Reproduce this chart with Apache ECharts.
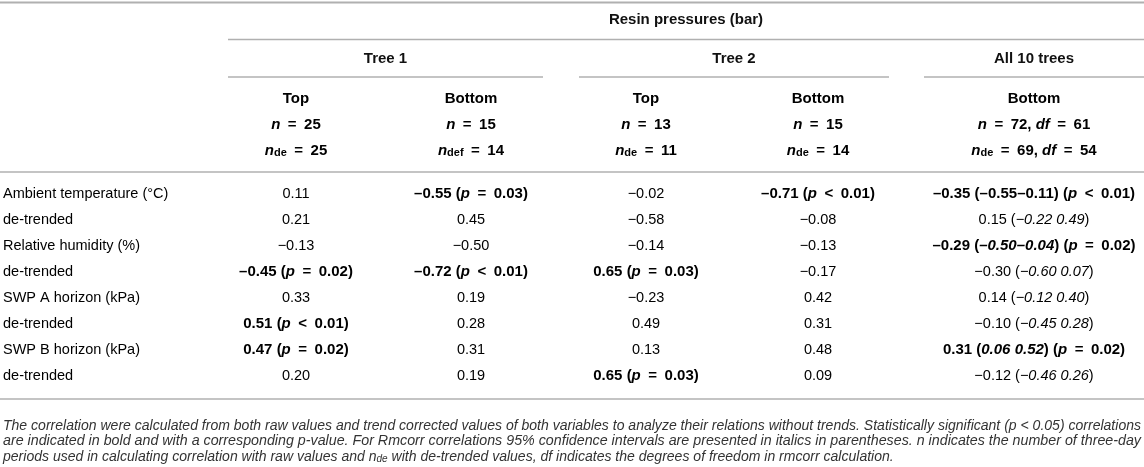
<!DOCTYPE html>
<html>
<head>
<meta charset="utf-8">
<script src="https://cdn.jsdelivr.net/npm/echarts@6/dist/echarts.min.js"></script>
<style>
  html, body { margin: 0; padding: 0; background: #fff; }
  #table { width: 1144px; height: 467px; }
</style>
</head>
<body>
<div id="table"></div>
<script>
// 行标题
const rowLabels = ['Ambient temperature (°C)', 'de-trended', 'Relative humidity (%)', 'de-trended',
  'SWP A horizon (kPa)', 'de-trended', 'SWP B horizon (kPa)', 'de-trended']
// 表头
const groups = ['Tree 1', 'Tree 2', 'All 10 trees']
const positions = ['Top', 'Bottom', 'Top', 'Bottom', 'Bottom']
const nRaw = [25, 15, 13, 15, 72]
const nDe = [25, 14, 11, 14, 69]
const nDeSub = ['de', 'def', 'de', 'de', 'de']
const dfRaw = 61
const dfDe = 54

// 相关系数 + p 值 (null = 不显著)
const tree1Top = [0.11, 0.21, -0.13, -0.45, 0.33, 0.51, 0.47, 0.20]
const tree1TopP = [null, null, null, '= 0.02', null, '< 0.01', '= 0.02', null]
const tree1Bottom = [-0.55, 0.45, -0.50, -0.72, 0.19, 0.28, 0.31, 0.19]
const tree1BottomP = ['= 0.03', null, null, '< 0.01', null, null, null, null]
const tree2Top = [-0.02, -0.58, -0.14, 0.65, -0.23, 0.49, 0.13, 0.65]
const tree2TopP = [null, null, null, '= 0.03', null, null, null, '= 0.03']
const tree2Bottom = [-0.71, -0.08, -0.13, -0.17, 0.42, 0.31, 0.48, 0.09]
const tree2BottomP = ['< 0.01', null, null, null, null, null, null, null]
// rmcorr: 系数, 95% 置信区间, p 值
const allBottom = [-0.35, 0.15, -0.29, -0.30, 0.14, -0.10, 0.31, -0.12]
const allCI = ['–0.55–0.11', '–0.22 0.49', '–0.50–0.04', '–0.60 0.07', '–0.12 0.40', '–0.45 0.28', '0.06 0.52', '–0.46 0.26']
const allP = ['< 0.01', null, '= 0.02', null, null, null, '= 0.02', null]

// 说明文字
const notes = [
  'The correlation were calculated from both raw values and trend corrected values of both variables to analyze their relations without trends. Statistically significant (p < 0.05) correlations',
  'are indicated in bold and with a corresponding p-value. For Rmcorr correlations 95% confidence intervals are presented in italics in parentheses. n indicates the number of three-day',
  'periods used in calculating correlation with raw values and n{sub|de} with de-trended values, df indicates the degrees of freedom in rmcorr calculation.'
]

// 版面
const W = 1144
const colX = [296, 471, 646, 818, 1034]
const groupSpan = [[228, 543], [579, 889], [924, 1144]]
const FONT = "'Liberation Sans', Arial, Helvetica, sans-serif"
const LINE = '#b0b0b0'
const SP = '\u2002' // 运算符两侧留宽一点

const rich = {
  r: { fontFamily: FONT, fontSize: 14.5, color: '#333' },
  ri: { fontFamily: FONT, fontSize: 14.5, color: '#333', fontStyle: 'italic' },
  b: { fontFamily: FONT, fontSize: 15, color: '#111', fontWeight: 'bold' },
  bi: { fontFamily: FONT, fontSize: 15, color: '#111', fontWeight: 'bold', fontStyle: 'italic' },
  bsub: { fontFamily: FONT, fontSize: 11, color: '#111', fontWeight: 'bold', verticalAlign: 'bottom', lineHeight: 11 }
}

const num = (v, bold) => (v < 0 ? (bold ? '–' : '−') : '') + Math.abs(v).toFixed(2)
const op = p => p.replace(/^([=<]) /, SP + '$1' + SP)

function cell(v, p) {
  if (!p) return '{r|' + num(v, false) + '}'
  return '{b|' + num(v, true) + ' (}{bi|p}{b|' + op(p) + ')}'
}
function rmCell(v, ci, p, i) {
  if (!p) return '{r|' + num(v, false) + ' (}{ri|' + ci.replace(/–/g, '−') + '}{r|)}'
  const ciTok = i === 0 ? '{b|' + ci + '}' : '{bi|' + ci + '}'
  return '{b|' + num(v, true) + ' (}' + ciTok + '{b|) (}{bi|p}{b|' + op(p) + ')}'
}

// 表体单元格
const cols = [
  [tree1Top, tree1TopP], [tree1Bottom, tree1BottomP],
  [tree2Top, tree2TopP], [tree2Bottom, tree2BottomP]
]
const bodyData = []
rowLabels.forEach((label, r) => {
  bodyData.push({ value: [3, r], text: '{r|' + label + '}', align: 'left' })
  cols.forEach((c, k) => bodyData.push({ value: [colX[k], r], text: cell(c[0][r], c[1][r]), align: 'center' }))
  bodyData.push({ value: [colX[4], r], text: rmCell(allBottom[r], allCI[r], allP[r], r), align: 'center' })
})

// 表头单元格
const headData = []
positions.forEach((pos, k) => {
  headData.push({ value: [colX[k], 0], text: '{b|' + pos + '}', align: 'center' })
  let n = '{bi|n}{b|' + SP + '=' + SP + nRaw[k] + '}'
  let nd = '{bi|n}{bsub|' + nDeSub[k] + '}{b|' + SP + '=' + SP + nDe[k] + '}'
  if (k === 4) {
    n += '{b|, }{bi|df}{b|' + SP + '=' + SP + dfRaw + '}'
    nd += '{b|, }{bi|df}{b|' + SP + '=' + SP + dfDe + '}'
  }
  headData.push({ value: [colX[k], 1], text: n, align: 'center' })
  headData.push({ value: [colX[k], 2], text: nd, align: 'center' })
})

function textItem(items) {
  return function (params, api) {
    const it = items[params.dataIndex]
    const c = api.coord([api.value(0), api.value(1)])
    return {
      type: 'text',
      x: c[0],
      y: c[1],
      style: { text: it.text, rich: rich, align: it.align, verticalAlign: 'middle' }
    }
  }
}

// 说明文字按原图两端对齐
const ctx = document.createElement('canvas').getContext('2d')
ctx.font = "italic 14px 'Liberation Sans', Arial, sans-serif"
const noteScale = 1138 / ctx.measureText(notes[0]).width
const noteScale2 = 1138 / ctx.measureText(notes[1]).width

const hline = (x1, x2, y, w) => ({
  type: 'line', silent: true,
  shape: { x1: x1, y1: y, x2: x2, y2: y },
  style: { stroke: LINE, lineWidth: w || 1.5 }
})
const boldText = (x, y, t) => ({
  type: 'text', x: x, y: y,
  style: { text: t, font: 'bold 15px ' + FONT, fill: '#111', align: 'center', verticalAlign: 'middle' }
})

const graphics = [
  hline(0, W, 2.5, 2),
  boldText((groupSpan[0][0] + W) / 2, 20, 'Resin pressures (bar)'),
  hline(groupSpan[0][0], W, 39.5),
  hline(0, W, 172),
  hline(0, W, 399)
]
groups.forEach((g, i) => {
  const s = groupSpan[i]
  graphics.push(boldText((s[0] + s[1]) / 2, 59, g))
  graphics.push(hline(s[0], s[1], 77))
})
notes.forEach((t, i) => {
  graphics.push({
    type: 'text', x: 3, y: 426 + i * 15.5, scaleX: i === 1 ? noteScale2 : noteScale,
    style: {
      text: '{t|' + t.replace('{sub|de}', '}{sub|de}{t|') + '}',
      align: 'left', verticalAlign: 'middle',
      rich: {
        t: { fontFamily: FONT, fontSize: 14, fontStyle: 'italic', fill: '#333' },
        sub: { fontFamily: FONT, fontSize: 10, fontStyle: 'italic', fill: '#333', verticalAlign: 'bottom', lineHeight: 10 }
      }
    }
  })
})

const chart = echarts.init(document.getElementById('table'), null, { renderer: 'canvas' })
const hiddenX = i => ({ type: 'value', gridIndex: i, min: 0, max: W, show: false })
const hiddenY = (i, n) => ({ type: 'category', gridIndex: i, data: Array.from({ length: n }, (_, k) => k), inverse: true, show: false })

chart.setOption({
  animation: false,
  grid: [
    { left: 0, right: 0, top: 86, height: 78 },
    { left: 0, right: 0, top: 181, height: 208 }
  ],
  xAxis: [hiddenX(0), hiddenX(1)],
  yAxis: [hiddenY(0, 3), hiddenY(1, rowLabels.length)],
  series: [
    { type: 'custom', xAxisIndex: 0, yAxisIndex: 0, data: headData.map(d => d.value), renderItem: textItem(headData), silent: true },
    { type: 'custom', xAxisIndex: 1, yAxisIndex: 1, data: bodyData.map(d => d.value), renderItem: textItem(bodyData), silent: true }
  ],
  graphic: graphics
})
</script>
</body>
</html>
